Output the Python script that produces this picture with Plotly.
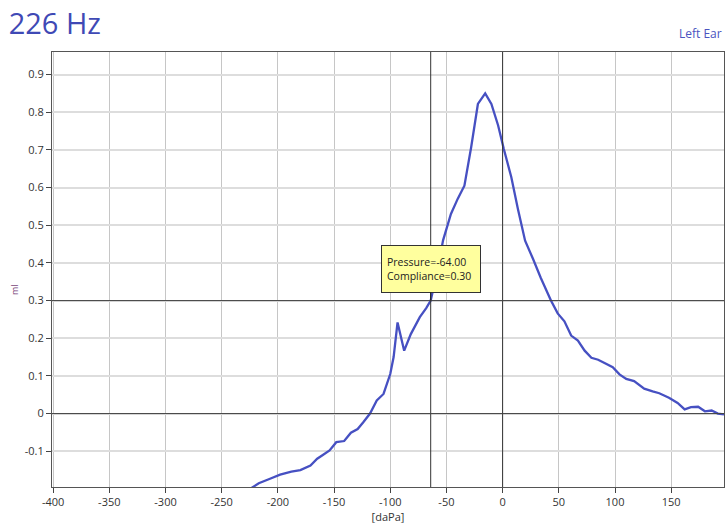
import plotly.graph_objects as go

# ---- data ----
pressure = [-240, -217, -207, -198, -188, -180, -171, -165, -160, -154, -148, -141, -135,
            -129, -124, -118, -112, -106, -100, -97, -93.5, -87.6, -81.7, -73.7, -68, -64,
            -58, -53, -46, -40, -34, -28, -22, -15.5, -10, -4, 1, 7.7, 13.6, 20, 27, 34,
            43, 49, 55, 61, 67, 73, 79, 85, 92, 98, 104, 110, 117, 126, 133.5, 139.4, 148,
            155.7, 162, 167.6, 174, 180, 186, 191.6, 197]
compliance = [-0.23, -0.185, -0.173, -0.162, -0.154, -0.150, -0.138, -0.120, -0.110, -0.098,
              -0.076, -0.073, -0.051, -0.041, -0.023, 0.0, 0.035, 0.052, 0.105, 0.150, 0.242,
              0.167, 0.211, 0.256, 0.28, 0.30, 0.38, 0.46, 0.53, 0.57, 0.605, 0.707, 0.822,
              0.850, 0.822, 0.765, 0.703, 0.628, 0.543, 0.459, 0.411, 0.36, 0.30, 0.266,
              0.245, 0.207, 0.194, 0.167, 0.148, 0.143, 0.132, 0.123, 0.104, 0.092, 0.086,
              0.066, 0.059, 0.054, 0.042, 0.028, 0.011, 0.017, 0.018, 0.006, 0.008, 0.0, -0.002]

cursor_pressure = -64
cursor_compliance = 0.30

x_tickvals = [-400, -350, -300, -250, -200, -150, -100, -50, 0, 50, 100, 150]
x_ticktext = ["-400", "-350", "-300", "-250", "-200", "-150", "-100", "-50", "0", "50", "100", "150"]
y_tickvals = [-0.1, 0, 0.1, 0.2, 0.3, 0.4, 0.5, 0.6, 0.7, 0.8, 0.9]
y_ticktext = ["-0.1", "0", "0.1", "0.2", "0.3", "0.4", "0.5", "0.6", "0.7", "0.8", "0.9"]

title_text = "226 Hz"
ear_text = "Left Ear"
x_label = "[daPa]"
y_label = "ml"

LINE = "#4650c2"
FONT = "Open Sans, DejaVu Sans, sans-serif"

fig = go.Figure()

# zero lines and cursor crosshair (drawn first, under the curve)
for xv in [0, cursor_pressure]:
    fig.add_shape(type="line", xref="x", yref="paper", x0=xv, x1=xv, y0=0, y1=1,
                  line=dict(color="#333333", width=1), layer="above")
for yv in [0, cursor_compliance]:
    fig.add_shape(type="line", xref="paper", yref="y", x0=0, x1=1, y0=yv, y1=yv,
                  line=dict(color="#444444", width=1), layer="above")

fig.add_trace(go.Scatter(x=pressure, y=compliance, mode="lines",
                         line=dict(color=LINE, width=2.3), hoverinfo="skip"))

axis_common = dict(showline=True, linecolor="#555555", linewidth=1, mirror=True,
                   ticks="outside", ticklen=5, tickcolor="#444444",
                   tickfont=dict(family=FONT, size=11, color="#333333"),
                   zeroline=False)

fig.update_layout(
    width=726, height=525,
    margin=dict(l=52, r=2, t=52, b=38),
    paper_bgcolor="white", plot_bgcolor="white",
    showlegend=False,
    hovermode=False,
    title=dict(text=title_text, x=0.012, xanchor="left", xref="container",
               y=1 - 24 / 525, yanchor="middle", yref="container",
               font=dict(family=FONT, size=29, color="#3f49b5")),
    xaxis=dict(range=[-401, 197], tickvals=x_tickvals, ticktext=x_ticktext,
               showgrid=True, gridcolor="#c6c6c6", gridwidth=1,
               title=dict(text=x_label, font=dict(family=FONT, size=11, color="#333333"),
                          standoff=4),
               **axis_common),
    yaxis=dict(range=[-0.195, 0.96], tickvals=y_tickvals, ticktext=y_ticktext,
               showgrid=True, gridcolor="#dddddd", gridwidth=2,
               **axis_common),
)

# tooltip
fig.add_annotation(x=cursor_pressure, y=cursor_compliance, xref="x", yref="y",
                   text=f"Pressure={cursor_pressure:.2f}<br>Compliance={cursor_compliance:.2f}",
                   showarrow=True, arrowhead=0, arrowwidth=1, arrowcolor="#222222",
                   ax=0, ay=-32, align="left",
                   bgcolor="#ffff9e", bordercolor="#333333", borderwidth=1, borderpad=5,
                   width=88, height=36,
                   font=dict(family=FONT, size=10.5, color="#222222"))

# ear label
fig.add_annotation(x=1, y=1, xref="paper", yref="paper", xanchor="right", yanchor="bottom",
                   yshift=8, text=ear_text, showarrow=False,
                   font=dict(family=FONT, size=12, color="#4a54c0"))

# y label
fig.add_annotation(x=-0.055, y=0.453, xref="paper", yref="paper", text=y_label,
                   xanchor="center", yanchor="middle",
                   textangle=-90, showarrow=False,
                   font=dict(family=FONT, size=9, color="#7a3f7a"))

fig.write_html("out.html", config={"displayModeBar": False},
               post_script="document.body.style.margin='0';")
